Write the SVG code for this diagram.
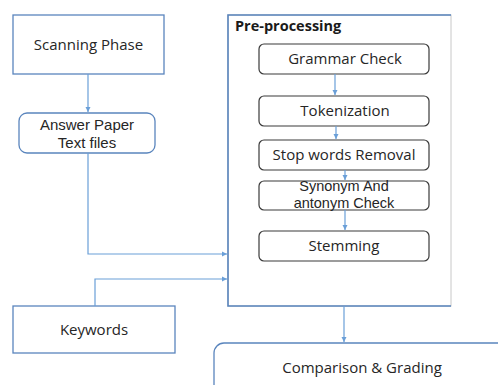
<svg xmlns="http://www.w3.org/2000/svg" width="498" height="385" viewBox="0 0 498 385">
<defs>
<style>
.blue{fill:#fff;stroke:#5a85bd;stroke-width:1.3}
.step{fill:#fff;stroke:#3a3a3a;stroke-width:1.2}
.t{font-family:"Open Sans","Liberation Sans",sans-serif;font-size:15px;fill:#262626;text-anchor:middle}
.t2{font-family:"Liberation Sans","Open Sans",sans-serif;font-size:15px;fill:#262626;text-anchor:middle}
.c{fill:none;stroke:#6a9fd8;stroke-width:1.2}
</style>
<marker id="ah" markerWidth="6" markerHeight="6" refX="5" refY="3" orient="auto" markerUnits="userSpaceOnUse">
<path d="M0,0.5 L5,3 L0,5.5 z" fill="#6a9fd8"/>
</marker>
</defs>
<rect width="498" height="385" fill="#fff"/>
<g id="preprocessing">
<rect x="228" y="15" width="223" height="291" fill="#fff" stroke="#c8c8c8" stroke-width="1"/>
<path d="M451,15 L228,15 L228,306 L451,306" fill="none" stroke="#5a85bd" stroke-width="1.6"/>
<text x="235" y="31" font-family="'Open Sans','Liberation Sans',sans-serif" font-size="14.5" font-weight="bold" fill="#1a1a1a">Pre-processing</text>
</g>
<g id="scanning">
<rect class="blue" x="13" y="15" width="151" height="59"/>
<text class="t" x="88.5" y="50">Scanning Phase</text>
</g>
<g id="answer">
<rect class="blue" x="19" y="113" width="136" height="40" rx="8"/>
<text class="t2" x="87" y="130"><tspan x="87">Answer Paper</tspan><tspan x="87" dy="17.5">Text files</tspan></text>
</g>
<g id="keywords">
<rect class="blue" x="13" y="306" width="162" height="47"/>
<text class="t" x="94" y="335">Keywords</text>
</g>
<g id="grammar">
<rect class="step" x="259" y="44" width="170" height="30" rx="5"/>
<text class="t" x="345" y="64">Grammar Check</text>
</g>
<g id="tokenization">
<rect class="step" x="259" y="96" width="170" height="30" rx="5"/>
<text class="t" x="345" y="116">Tokenization</text>
</g>
<g id="stopwords">
<rect class="step" x="259" y="140" width="170" height="30" rx="5"/>
<text class="t" x="344" y="160">Stop words Removal</text>
</g>
<g id="synonym">
<rect class="step" x="259" y="181" width="170" height="29" rx="5"/>
<text class="t2" x="344" y="191" style="font-size:14.5px"><tspan x="344">Synonym And</tspan><tspan x="344" dy="17">antonym Check</tspan></text>
</g>
<g id="stemming">
<rect class="step" x="259" y="231" width="170" height="30" rx="5"/>
<text class="t" x="344" y="251">Stemming</text>
</g>
<g id="comparison">
<rect class="blue" x="214" y="343" width="300" height="60" rx="10"/>
<text class="t" x="362" y="373">Comparison &amp; Grading</text>
</g>
<g id="connectors">
<path class="c" d="M88,74 L88,112" marker-end="url(#ah)"/>
<path class="c" d="M88,153 L88,254 L227,254" marker-end="url(#ah)"/>
<path class="c" d="M95,306 L95,279 L227,279" marker-end="url(#ah)"/>
<path class="c" d="M335,74 L335,95" marker-end="url(#ah)"/>
<path class="c" d="M336,126 L336,139" marker-end="url(#ah)"/>
<path class="c" d="M345,170 L345,180" marker-end="url(#ah)"/>
<path class="c" d="M345,210 L345,230" marker-end="url(#ah)"/>
<path class="c" d="M344,306 L344,342" marker-end="url(#ah)"/>
</g>
</svg>
